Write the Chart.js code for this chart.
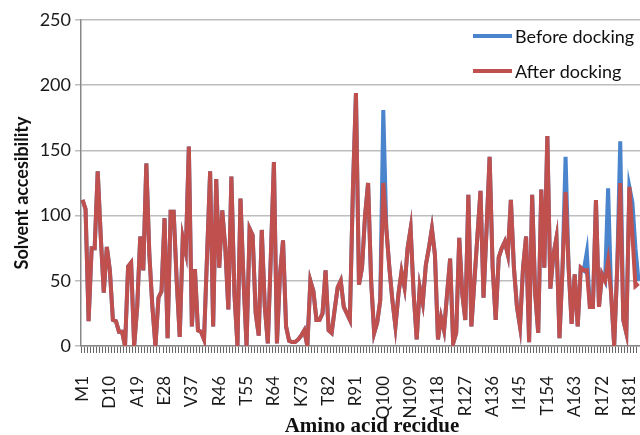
<!DOCTYPE html>
<html lang="en">
<head>
    <meta charset="UTF-8">
    <title>Solvent accessibility</title>
    <script src="https://cdn.jsdelivr.net/npm/chart.js"></script>
    <style>
        html, body { margin: 0; padding: 0; background: #fff; }
        #wrap { width: 640px; height: 435px; }
    </style>
</head>
<body>
    <div id="wrap"><canvas id="accChart" width="640" height="435"></canvas></div>
    <script>
        // residue names shown on the axis (every 9th residue)
        const tickLabels = ['M1', 'D10', 'A19', 'E28', 'V37', 'R46', 'T55', 'R64', 'K73', 'T82', 'R91',
            'Q100', 'N109', 'A118', 'R127', 'A136', 'I145', 'T154', 'A163', 'R172', 'R181'];

        // after docking, residues 1..184
        const afterDocking = [
            112, 105, 19, 75, 75, 134, 84, 41, 76, 58,
            20, 19, 11, 11, 0, 61, 64, 0, 30, 84,
            58, 140, 70, 30, 0, 37, 42, 98, 6, 103,
            103, 50, 7, 83, 72, 153, 15, 59, 12, 11,
            5, 70, 134, 15, 128, 60, 104, 75, 28, 130,
            40, 0, 113, 50, 0, 90, 85, 25, 8, 89,
            30, 2, 70, 141, 2, 55, 81, 15, 4, 3,
            3, 5, 8, 12, 0, 50, 42, 20, 20, 25,
            58, 12, 10, 28, 45, 50, 30, 25, 20, 120,
            194, 47, 60, 100, 125, 50, 10, 18, 35, 125,
            90, 60, 35, 15, 40, 57, 45, 75, 90, 40,
            5, 45, 33, 62, 75, 90, 70, 5, 22, 12,
            40, 67, 2, 10, 83, 40, 20, 116, 15, 50,
            85, 119, 37, 90, 145, 60, 20, 68, 75, 80,
            70, 112, 60, 30, 15, 60, 84, 3, 116, 40,
            10, 120, 60, 161, 44, 70, 83, 6, 60, 118,
            60, 17, 55, 15, 60, 58, 58, 30, 30, 112,
            30, 55, 50, 65, 40, 0, 60, 125, 20, 10,
            122, 85, 46, 48
        ];

        // before docking, same except where the blue shows
        const beforeDocking = [
            112, 105, 19, 75, 75, 134, 84, 41, 76, 58,
            20, 19, 11, 11, 0, 61, 64, 0, 30, 84,
            58, 140, 70, 30, 0, 37, 42, 98, 6, 103,
            103, 50, 7, 83, 72, 153, 15, 59, 12, 11,
            5, 70, 134, 15, 128, 60, 104, 75, 28, 130,
            40, 0, 113, 50, 0, 90, 85, 25, 8, 89,
            30, 2, 70, 141, 2, 55, 81, 15, 4, 3,
            3, 5, 8, 12, 0, 50, 42, 20, 20, 25,
            58, 12, 10, 28, 45, 50, 30, 25, 20, 120,
            194, 47, 60, 100, 125, 50, 10, 18, 35, 181,
            90, 60, 35, 15, 40, 57, 45, 75, 90, 40,
            5, 45, 33, 62, 75, 90, 70, 5, 22, 12,
            40, 67, 2, 10, 83, 40, 20, 116, 15, 50,
            85, 119, 37, 90, 145, 60, 20, 68, 75, 80,
            70, 112, 60, 30, 15, 60, 84, 3, 116, 40,
            10, 120, 60, 161, 44, 70, 83, 6, 60, 145,
            60, 17, 55, 15, 60, 58, 72, 30, 30, 112,
            30, 55, 50, 121, 40, 0, 60, 157, 20, 10,
            122, 110, 75, 50
        ];

        const yTicks = [0, 50, 100, 150, 200, 250];

        const labels = afterDocking.map((v, i) => (i % 9 === 0 ? tickLabels[i / 9] : ''));

        // legend inside the plot (top right) and the two axis titles
        const extras = {
            id: 'extras',
            afterDraw(chart) {
                const ctx = chart.ctx;
                const rows = [chart.data.datasets[0], chart.data.datasets[1]];
                ctx.save();
                ctx.font = '18px Lato';
                ctx.textBaseline = 'middle';
                rows.forEach((ds, i) => {
                    const y = 36 + i * 35;
                    ctx.strokeStyle = ds.borderColor;
                    ctx.lineWidth = 4;
                    ctx.beginPath();
                    ctx.moveTo(473, y);
                    ctx.lineTo(512, y);
                    ctx.stroke();
                    ctx.fillStyle = '#111';
                    ctx.fillText(ds.label, 515, y + 1);
                });

                ctx.fillStyle = '#111';
                ctx.textAlign = 'center';
                ctx.textBaseline = 'alphabetic';
                ctx.font = 'bold 21px "Liberation Serif"';
                ctx.fillText('Amino acid recidue', 372, 432);

                ctx.translate(28, 193);
                ctx.rotate(-Math.PI / 2);
                ctx.font = 'bold 18px Lato';
                ctx.fillText('Solvent accesibility', 0, 0);
                ctx.restore();
            }
        };

        const ctx = document.getElementById('accChart').getContext('2d');
        new Chart(ctx, {
            type: 'line',
            data: {
                labels: labels,
                datasets: [{
                    label: 'Before docking',
                    data: beforeDocking,
                    borderColor: '#4a84cc',
                    borderWidth: 4,
                    pointRadius: 0,
                    tension: 0,
                    order: 2
                }, {
                    label: 'After docking',
                    data: afterDocking,
                    borderColor: '#c0504d',
                    borderWidth: 4,
                    pointRadius: 0,
                    tension: 0,
                    order: 1
                }]
            },
            options: {
                responsive: false,
                animation: false,
                layout: { padding: { top: 20, right: 0, left: 0, bottom: 0 } },
                plugins: {
                    legend: { display: false },
                    tooltip: { enabled: false }
                },
                scales: {
                    x: {
                        offset: true,
                        grid: {
                            offset: true,
                            drawOnChartArea: false,
                            drawTicks: true,
                            tickLength: 7,
                            color: '#666',
                            lineWidth: 1
                        },
                        border: { color: '#888', width: 1.5 },
                        ticks: {
                            autoSkip: false,
                            maxRotation: 90,
                            minRotation: 90,
                            padding: 23,
                            color: '#1a1a1a',
                            font: { family: 'Lato', size: 17 },
                            callback: (v, i) => labels[i]
                        },
                        afterFit: s => {
                            s.height = 89;
                            s.paddingLeft = 0;
                            s.paddingRight = 0;
                        }
                    },
                    y: {
                        min: 0,
                        max: 250,
                        afterBuildTicks: s => { s.ticks = yTicks.map(v => ({ value: v })); },
                        grid: {
                            color: '#bdbdbd',
                            lineWidth: 1.5,
                            tickLength: 6
                        },
                        border: { color: '#888', width: 1.5 },
                        ticks: {
                            padding: 4,
                            color: '#1a1a1a',
                            font: { family: 'Lato', size: 18 }
                        },
                        afterFit: s => { s.width = 81; }
                    }
                }
            },
            plugins: [extras]
        });
    </script>
</body>
</html>
